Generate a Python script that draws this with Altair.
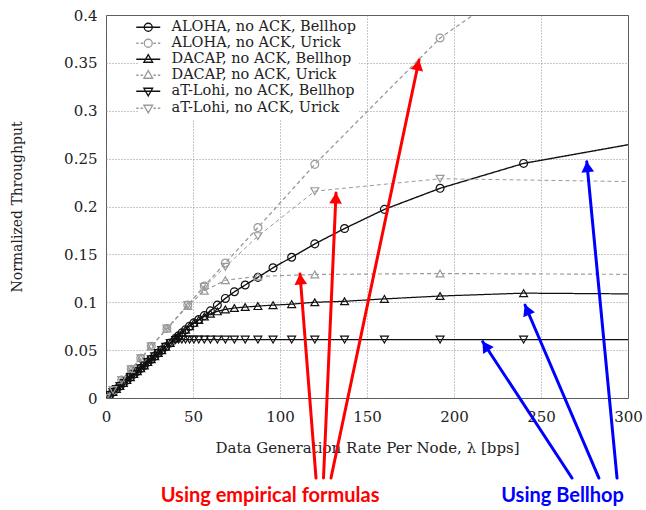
import math
import altair as alt
import pandas as pd

# ---------------- data ----------------
SERIES = [
    "ALOHA, no ACK, Bellhop",
    "ALOHA, no ACK, Urick",
    "DACAP, no ACK, Bellhop",
    "DACAP, no ACK, Urick",
    "aT-Lohi, no ACK, Bellhop",
    "aT-Lohi, no ACK, Urick",
]

bellhop_x = [0, 2, 4, 6, 8, 10, 12, 14, 16, 18, 20, 22, 24, 26, 28, 30, 32, 34.3, 36.9, 40,
             41.7, 43.6, 45.7, 48, 50.5, 53.3, 56.5, 60, 64, 68.6, 73.8, 80, 87.3, 96, 106.7,
             120, 137.1, 160, 192, 240, 320]
aloha_bellhop = [0, 0.0031, 0.0062, 0.0094, 0.0125, 0.0156, 0.0187, 0.0218, 0.025, 0.028,
                 0.031, 0.034, 0.0375, 0.0405, 0.0437, 0.047, 0.05, 0.0535, 0.0575, 0.0623,
                 0.065, 0.068, 0.0713, 0.075, 0.0785, 0.082, 0.086, 0.091, 0.097, 0.104,
                 0.111, 0.118, 0.126, 0.136, 0.147, 0.161, 0.177, 0.197, 0.219, 0.245, 0.271]
dacap_bellhop = [0, 0.0031, 0.0062, 0.0094, 0.0125, 0.0156, 0.0187, 0.0218, 0.025, 0.028,
                 0.031, 0.034, 0.0375, 0.0405, 0.0437, 0.047, 0.05, 0.0535, 0.0575, 0.0623,
                 0.065, 0.068, 0.0713, 0.075, 0.0785, 0.0815, 0.085, 0.088, 0.0905, 0.0925,
                 0.094, 0.095, 0.096, 0.097, 0.098, 0.100, 0.101, 0.1035, 0.1065, 0.1095, 0.1085]
atlohi_bellhop = [0, 0.0031, 0.0062, 0.0094, 0.0125, 0.0156, 0.0187, 0.0218, 0.025, 0.028,
                  0.031, 0.034, 0.0375, 0.0405, 0.0437, 0.047, 0.05, 0.0535, 0.0575, 0.0605,
                  0.061, 0.061, 0.061, 0.061, 0.061, 0.061, 0.061, 0.061, 0.061, 0.061,
                  0.061, 0.061, 0.061, 0.061, 0.061, 0.061, 0.061, 0.061, 0.061, 0.061, 0.061]

urick_x = [0, 4, 9, 14.5, 20, 26, 35, 47, 56.5, 68.6, 87.3, 120, 192, 320]
aloha_urick = [0, 0.0083, 0.0187, 0.030, 0.0415, 0.054, 0.0725, 0.097, 0.117, 0.141,
               0.178, 0.244, 0.376, 0.537]
dacap_urick = [0, 0.0083, 0.0187, 0.030, 0.0415, 0.054, 0.0725, 0.096, 0.112, 0.123,
               0.127, 0.129, 0.130, 0.129]
atlohi_urick = [0, 0.0083, 0.0187, 0.030, 0.0415, 0.054, 0.0725, 0.097, 0.116, 0.137,
                0.169, 0.216, 0.229, 0.2255]

x_ticks = [0, 50, 100, 150, 200, 250, 300]
y_ticks = [0, 0.05, 0.1, 0.15, 0.2, 0.25, 0.3, 0.35, 0.4]

# annotation arrows (tail -> tip, data units) and captions
arrow_colors = ["#ff0000", "#ff0000", "#ff0000", "#0000ff", "#0000ff", "#0000ff"]
arrow_tail_x = [120.7, 125.0, 129.3, 267.8, 283.3, 293.7]
arrow_tail_y = [-0.0836, -0.0836, -0.0836, -0.0836, -0.0836, -0.0836]
arrow_tip_x = [111.5, 132.2, 179.9, 216.5, 240.8, 276.3]
arrow_tip_y = [0.1295, 0.2141, 0.353, 0.0588, 0.0971, 0.2468]
caption_text = ["Using empirical formulas", "Using Bellhop"]
caption_x = [94.3, 262.4]
caption_y = [-0.1023, -0.1023]
caption_colors = ["#ff0000", "#0000ff"]

# ---------------- styling ----------------
COLORS = ["#111111", "#9a9a9a", "#111111", "#9a9a9a", "#111111", "#9a9a9a"]
DASHES = [[1, 0], [4, 3], [1, 0], [4, 3], [1, 0], [4, 3]]
WIDTHS = [1.4, 1.0, 1.4, 1.0, 1.4, 1.0]
SHAPES = ["circle", "circle", "triangle-up", "triangle-up", "triangle-down", "triangle-down"]

CIRC = "M1,0A1,1,0,1,1,-1,0A1,1,0,1,1,1,0Z"
TUP = "M0,-1.15L1.1,0.75L-1.1,0.75Z"
TDN = "M0,1.15L1.1,-0.75L-1.1,-0.75Z"
SOLID = "M-3,0L3,0"
DASHED = "M-3,0L-2.4,0M-1.9,0L-1.3,0M1.3,0L1.9,0M2.4,0L3,0"
LEGEND_SHAPES = [SOLID + CIRC, DASHED + CIRC, SOLID + TUP, DASHED + TUP, SOLID + TDN, DASHED + TDN]

W, H = 522, 383
PX_X = W / 300.0
PX_Y = H / 0.4

# ---------------- tables ----------------
rows = []
for name, xs, ys in [
    (SERIES[0], bellhop_x, aloha_bellhop),
    (SERIES[1], urick_x, aloha_urick),
    (SERIES[2], bellhop_x, dacap_bellhop),
    (SERIES[3], urick_x, dacap_urick),
    (SERIES[4], bellhop_x, atlohi_bellhop),
    (SERIES[5], urick_x, atlohi_urick),
]:
    for xv, yv in zip(xs, ys):
        rows.append({"x": xv, "y": yv, "series": name})
df = pd.DataFrame(rows)

rule_df = pd.DataFrame({"x": arrow_tail_x, "y": arrow_tail_y,
                        "x2": arrow_tip_x, "y2": arrow_tip_y, "c": arrow_colors})
head_rows = []
for tx, ty, hx, hy, c in zip(arrow_tail_x, arrow_tail_y, arrow_tip_x, arrow_tip_y, arrow_colors):
    vx = (hx - tx) * PX_X
    vy = -(hy - ty) * PX_Y
    n = math.hypot(vx, vy)
    ux, uy = vx / n, vy / n
    ang = (math.degrees(math.atan2(ux, -uy)) + 360) % 360
    head_rows.append({"x": hx - 5 * ux / PX_X, "y": hy + 5 * uy / PX_Y, "ang": ang, "c": c})
head_df = pd.DataFrame(head_rows)
cap_df = pd.DataFrame({"x": caption_x, "y": caption_y, "t": caption_text, "c": caption_colors})

# ---------------- encodings ----------------
xscale = alt.Scale(domain=[0, 300], nice=False, zero=False)
yscale = alt.Scale(domain=[0, 0.4], nice=False, zero=False)
xaxis = alt.Axis(values=x_ticks, format="d", labelPadding=11, titlePadding=16,
                 titleFontSize=15, labelFlush=False)
yaxis = alt.Axis(values=y_ticks, format=".2~f", labelPadding=9, titlePadding=39,
                 titleFontSize=14, labelFlush=False)
XT = "Data Generation Rate Per Node, λ [bps]"
YT = "Normalized Throughput"


def X(field="x"):
    return alt.X(f"{field}:Q", scale=xscale, axis=xaxis, title=XT)


def Y(field="y"):
    return alt.Y(f"{field}:Q", scale=yscale, axis=yaxis, title=YT)


cscale = alt.Scale(domain=SERIES, range=COLORS)

lines = alt.Chart(df).mark_line(clip=True).encode(
    x=X(), y=Y(),
    color=alt.Color("series:N", scale=cscale, legend=None),
    strokeDash=alt.StrokeDash("series:N", scale=alt.Scale(domain=SERIES, range=DASHES), legend=None),
    strokeWidth=alt.StrokeWidth("series:N", scale=alt.Scale(domain=SERIES, range=WIDTHS), legend=None),
    detail="series:N",
)

points = alt.Chart(df).mark_point(clip=True, filled=False, size=62, strokeWidth=1.2, opacity=1).encode(
    x=X(), y=Y(),
    color=alt.Color("series:N", scale=cscale, legend=None),
    shape=alt.Shape("series:N", scale=alt.Scale(domain=SERIES, range=SHAPES), legend=None),
)

legend_def = alt.Legend(
    title=None, orient="none", legendX=32, legendY=2, padding=3,
    fillColor="white", labelFont="DejaVu Serif", labelFontSize=14.5, labelColor="#222222",
    labelOffset=16, labelLimit=400, symbolSize=64, symbolStrokeWidth=1.3,
    symbolFillColor="white", rowPadding=1,
)

legend_layer = alt.Chart(df).transform_filter("false").mark_point(
    filled=False, opacity=1, strokeWidth=1.3).encode(
    x=X(), y=Y(),
    color=alt.Color("series:N", scale=alt.Scale(domain=SERIES, range=COLORS), legend=legend_def),
    shape=alt.Shape("series:N", scale=alt.Scale(domain=SERIES, range=LEGEND_SHAPES), legend=legend_def),
)

rules = alt.Chart(rule_df).mark_rule(strokeWidth=3, strokeCap="round").encode(
    x=X(), y=Y(), x2="x2:Q", y2="y2:Q",
    color=alt.Color("c:N", scale=None),
)

heads = alt.Chart(head_df).mark_point(shape="triangle-up", filled=True, size=160, opacity=1).encode(
    x=X(), y=Y(),
    angle=alt.Angle("ang:Q", scale=None),
    color=alt.Color("c:N", scale=None),
)

captions = alt.Chart(cap_df).mark_text(font="Lato", fontSize=20, fontWeight="bold",
                                       align="center", baseline="middle").encode(
    x=X(), y=Y(), text="t:N",
    color=alt.Color("c:N", scale=None),
)

chart = alt.layer(lines, points, legend_layer, rules, heads, captions).resolve_scale(
    color="independent", shape="independent"
).properties(
    width=W, height=H,
    padding={"left": 106, "top": 15, "right": 18, "bottom": 112},
    autosize=alt.AutoSizeParams(type="none"),
    background="white",
).configure_view(
    stroke="#555555", strokeWidth=1
).configure_axis(
    grid=True, gridColor="#777777", gridDash=[1, 2], gridWidth=0.8,
    domain=False, ticks=False,
    labelFont="DejaVu Serif", labelFontSize=15, labelColor="#222222",
    titleFont="DejaVu Serif", titleFontWeight="normal", titleColor="#222222",
)

chart.save("out.html", embed_options={"renderer": "svg", "actions": False})
